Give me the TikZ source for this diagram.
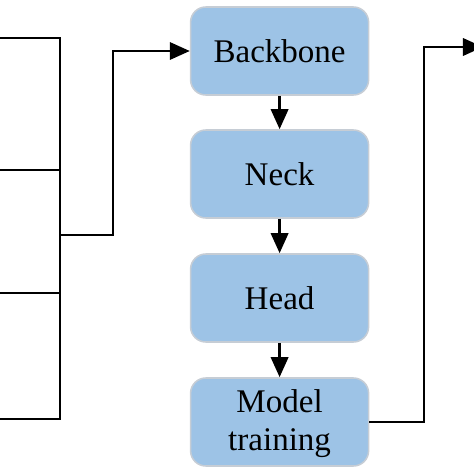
\documentclass[tikz,border=0pt]{standalone}
\usepackage{fontspec}
\setmainfont{Liberation Serif}
\usepackage{tikz}
\usetikzlibrary{arrows.meta,positioning,calc}

\definecolor{boxfill}{HTML}{9DC3E6}
\definecolor{boxline}{HTML}{C6CDD5}

\begin{document}
\begin{tikzpicture}[>={Triangle[length=0.5cm,width=0.43cm]}, line width=2pt,
  font=\fontsize{23.5}{26.5}\selectfont,
  stage/.style={draw=boxline, line width=1.1pt, fill=boxfill, rounded corners=0.38cm,
    minimum width=4.45cm, minimum height=2.2cm, align=center, inner sep=0pt}]
  \useasboundingbox (0,0) rectangle (11.85,11.85);
  \clip (0,0) rectangle (11.85,11.85);
  % pipeline stages
  \node[stage] (backbone) at (6.99,10.575) {Backbone};
  \node[stage] (neck) at (6.99,7.5) {Neck};
  \node[stage] (head) at (6.99,4.4) {Head};
  \node[stage, text depth=0.1cm] (train) at (6.99,1.3) {Model\\training};
  \draw[->] (backbone) -- (neck);
  \draw[->] (neck) -- (head);
  \draw[->] (head) -- (train);
  % inputs merged on the left
  \coordinate (in1) at (0,10.9);
  \coordinate (in2) at (0,7.6);
  \coordinate (in3) at (0,4.525);
  \coordinate (in4) at (0,1.375);
  \coordinate (bus) at (1.5,5.975);
  \coordinate (feed) at (2.825,5.975);
  \draw (in1) -- (in1 -| bus) -- (in4 -| bus) -- (in4);
  \draw (in2) -- (in2 -| bus);
  \draw (in3) -- (in3 -| bus);
  \draw[->] (bus) -- (feed) |- (backbone.west);
  % output on the right
  \coordinate (riser) at (10.6,10.675);
  \coordinate (out) at (12.075,10.675);
  \draw[->] (train.east) -| (riser) -- (out);
\end{tikzpicture}
\end{document}
